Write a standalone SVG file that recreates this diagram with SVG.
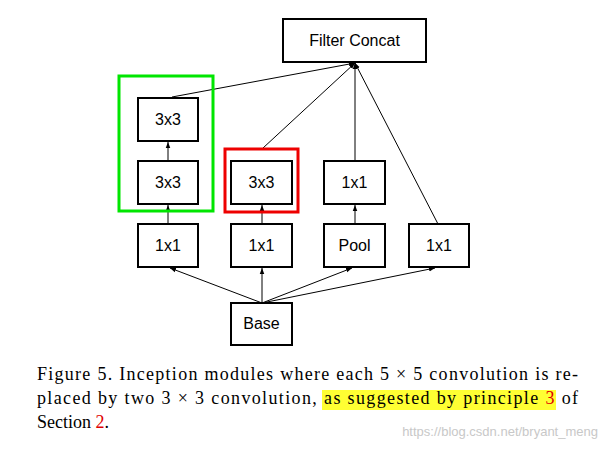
<svg xmlns="http://www.w3.org/2000/svg" width="605" height="449" viewBox="0 0 605 449">
<defs>
<style>
.n{fill:#fff;stroke:#000;stroke-width:2}
.t{font-family:"Liberation Sans",Arial,sans-serif;font-size:16px;text-anchor:middle;fill:#000}
.c{stroke:#000;stroke-width:1;fill:none;marker-end:url(#a)}
.cap{font-family:"Liberation Serif","Times New Roman",serif;font-size:18px;fill:#000}
</style>
<marker id="a" viewBox="0 0 8 8" refX="8" refY="4" markerWidth="6" markerHeight="6" orient="auto"><path d="M0,1 L8,4 L0,7 z" fill="#000"/></marker>
</defs>
<rect width="605" height="449" fill="#fff"/>
<g id="connectors">
<line class="c" x1="262" y1="303" x2="170" y2="268"/>
<line class="c" x1="262" y1="303" x2="262" y2="268"/>
<line class="c" x1="262" y1="303" x2="352" y2="268"/>
<line class="c" x1="262" y1="303" x2="435" y2="268"/>
<line class="c" x1="168" y1="224" x2="168" y2="205"/>
<line class="c" x1="168" y1="161" x2="168" y2="142"/>
<line class="c" x1="262" y1="224" x2="262" y2="205"/>
<line class="c" x1="355" y1="224" x2="355" y2="205"/>
<line class="c" x1="172" y1="97" x2="355" y2="63"/>
<line class="c" x1="263" y1="148" x2="355" y2="63"/>
<line class="c" x1="355" y1="161" x2="355" y2="63"/>
<line class="c" x1="438" y1="224" x2="355" y2="63"/>
</g>
<g id="concat"><rect class="n" x="283" y="19" width="143" height="43"/><text class="t" x="354.5" y="46">Filter Concat</text></g>
<g id="green"><rect x="119" y="76" width="94" height="135" fill="none" stroke="#00e600" stroke-width="3"/></g>
<g id="red"><rect x="225" y="149" width="73" height="63" fill="none" stroke="#ee0000" stroke-width="3"/></g>
<g id="c1top"><rect class="n" x="138" y="98" width="60" height="43"/><text class="t" x="168" y="125">3x3</text></g>
<g id="c1mid"><rect class="n" x="138" y="161" width="60" height="43"/><text class="t" x="168" y="188">3x3</text></g>
<g id="c2mid"><rect class="n" x="231" y="161" width="61" height="43"/><text class="t" x="261.5" y="188">3x3</text></g>
<g id="c3mid"><rect class="n" x="324" y="161" width="61" height="43"/><text class="t" x="354.5" y="188">1x1</text></g>
<g id="c1bot"><rect class="n" x="138" y="224" width="60" height="43"/><text class="t" x="168" y="251">1x1</text></g>
<g id="c2bot"><rect class="n" x="231" y="224" width="61" height="43"/><text class="t" x="261.5" y="251">1x1</text></g>
<g id="c3bot"><rect class="n" x="324" y="224" width="61" height="43"/><text class="t" x="354.5" y="251">Pool</text></g>
<g id="c4bot"><rect class="n" x="409" y="224" width="60" height="43"/><text class="t" x="439" y="251">1x1</text></g>
<g id="base"><rect class="n" x="231" y="303" width="61" height="42"/><text class="t" x="261.5" y="329">Base</text></g>
<rect x="322" y="390" width="234" height="20" fill="#ffff33"/>
<text class="cap" x="37" y="380" textLength="541" lengthAdjust="spacing">Figure 5. Inception modules where each 5 × 5 convolution is re-</text>
<text class="cap" x="37" y="404" textLength="541" lengthAdjust="spacing">placed by two 3 × 3 convolution, <tspan>as suggested by principle </tspan><tspan fill="#e00000">3</tspan> of</text>
<text class="cap" x="37" y="428">Section <tspan fill="#e00000">2</tspan>.</text>
<text x="598" y="436" text-anchor="end" font-family="'Liberation Sans',Arial,sans-serif" font-size="13" fill="#c8c8c8">https://blog.csdn.net/bryant_meng</text>
</svg>
